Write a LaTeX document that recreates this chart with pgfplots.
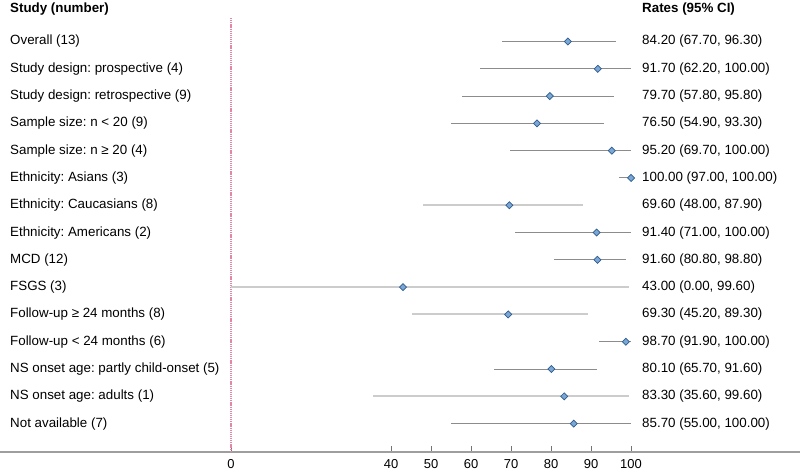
\documentclass[border=0pt]{standalone}
\usepackage{pgfplots}
\pgfplotsset{compat=1.18}
\usepackage{fontspec}
\setmainfont{Liberation Sans}
\frenchspacing
\definecolor{cidark}{HTML}{8C8C8C}
\definecolor{cilight}{HTML}{CCCCCC}
\definecolor{dfill}{HTML}{7AA7D6}
\definecolor{ddraw}{HTML}{2F5C8C}
\definecolor{refline}{HTML}{E088A6}
\newcommand{\lab}{\fontsize{13.4}{16}\selectfont}
\tikzset{lbl/.style={anchor=west, inner sep=0pt, font=\lab}}
\begin{document}
\begin{tikzpicture}
\useasboundingbox (0,0) rectangle (800bp,470bp);
\begin{axis}[
    at={(0,18bp)}, anchor=south west,
    scale only axis, width=800bp, height=452bp,
    xmin=-57.75, xmax=142.25,
    ymin=-1.52, ymax=15.04, y dir=reverse,
    axis x line*=bottom, axis y line=none,
    x axis line style={draw=black!38, line width=2bp},
    xtick={0,40,50,60,70,80,90,100},
    tick align=inside, major tick length=6bp,
    tick style={draw=black!55, line width=0.7bp},
    xticklabel style={font=\fontsize{13}{15}\selectfont, inner sep=0pt, yshift=-7.5bp},
    /pgf/number format/assume math mode=true,
    ytick=\empty,
    clip=false,
    error bars/error mark=none,
  ]
% reference line at 0
\addplot[refline, dash pattern=on 1.2bp off 0.9bp, line width=1.1bp] coordinates {(0,-0.86) (0,15.04)};
% light CI lines
\addplot[only marks, mark=square*, mark size=2.5bp,
  mark options={rotate=45, fill=dfill, draw=ddraw, line width=0.7bp},
  error bars/.cd, x dir=both, x explicit,
  error bar style={draw=cilight, line width=2bp}]
  table[x=est, y=row, x error plus expr=\thisrow{hi}-\thisrow{est}, x error minus expr=\thisrow{est}-\thisrow{lo}] {
row est lo hi
6 69.6 48.0 87.9
9 43.0 0.0 99.6
10 69.3 45.2 89.3
13 83.3 35.6 99.6
};
% dark CI lines
\addplot[only marks, mark=square*, mark size=2.5bp,
  mark options={rotate=45, fill=dfill, draw=ddraw, line width=0.7bp},
  error bars/.cd, x dir=both, x explicit,
  error bar style={draw=cidark, line width=1bp}]
  table[x=est, y=row, x error plus expr=\thisrow{hi}-\thisrow{est}, x error minus expr=\thisrow{est}-\thisrow{lo}] {
row est lo hi
0 84.2 67.7 96.3
1 91.7 62.2 100.0
2 79.7 57.8 95.8
3 76.5 54.9 93.3
4 95.2 69.7 100.0
5 100.0 97.0 100.0
7 91.4 71.0 100.0
8 91.6 80.8 98.8
11 98.7 91.9 100.0
12 80.1 65.7 91.6
14 85.7 55.0 100.0
};
% headers
\node[lbl, font=\lab\bfseries] at (axis cs:-55.25,-1.198) {Study (number)};
\node[lbl, font=\lab\bfseries] at (axis cs:102.75,-1.198) {Rates (95\% CI)};
% left labels
\node[lbl] at (axis cs:-55.25,0) {Overall (13)};
\node[lbl] at (axis cs:-55.25,1) {Study design: prospective (4)};
\node[lbl] at (axis cs:-55.25,2) {Study design: retrospective (9)};
\node[lbl] at (axis cs:-55.25,3) {Sample size: n < 20 (9)};
\node[lbl] at (axis cs:-55.25,4) {Sample size: n ≥ 20 (4)};
\node[lbl] at (axis cs:-55.25,5) {Ethnicity: Asians (3)};
\node[lbl] at (axis cs:-55.25,6) {Ethnicity: Caucasians (8)};
\node[lbl] at (axis cs:-55.25,7) {Ethnicity: Americans (2)};
\node[lbl] at (axis cs:-55.25,8) {MCD (12)};
\node[lbl] at (axis cs:-55.25,9) {FSGS (3)};
\node[lbl] at (axis cs:-55.25,10) {Follow-up ≥ 24 months (8)};
\node[lbl] at (axis cs:-55.25,11) {Follow-up < 24 months (6)};
\node[lbl] at (axis cs:-55.25,12) {NS onset age: partly child-onset (5)};
\node[lbl] at (axis cs:-55.25,13) {NS onset age: adults (1)};
\node[lbl] at (axis cs:-55.25,14) {Not available (7)};
% right labels
\node[lbl] at (axis cs:102.75,0) {84.20 (67.70, 96.30)};
\node[lbl] at (axis cs:102.75,1) {91.70 (62.20, 100.00)};
\node[lbl] at (axis cs:102.75,2) {79.70 (57.80, 95.80)};
\node[lbl] at (axis cs:102.75,3) {76.50 (54.90, 93.30)};
\node[lbl] at (axis cs:102.75,4) {95.20 (69.70, 100.00)};
\node[lbl] at (axis cs:102.75,5) {100.00 (97.00, 100.00)};
\node[lbl] at (axis cs:102.75,6) {69.60 (48.00, 87.90)};
\node[lbl] at (axis cs:102.75,7) {91.40 (71.00, 100.00)};
\node[lbl] at (axis cs:102.75,8) {91.60 (80.80, 98.80)};
\node[lbl] at (axis cs:102.75,9) {43.00 (0.00, 99.60)};
\node[lbl] at (axis cs:102.75,10) {69.30 (45.20, 89.30)};
\node[lbl] at (axis cs:102.75,11) {98.70 (91.90, 100.00)};
\node[lbl] at (axis cs:102.75,12) {80.10 (65.70, 91.60)};
\node[lbl] at (axis cs:102.75,13) {83.30 (35.60, 99.60)};
\node[lbl] at (axis cs:102.75,14) {85.70 (55.00, 100.00)};
\end{axis}
\end{tikzpicture}
\end{document}
